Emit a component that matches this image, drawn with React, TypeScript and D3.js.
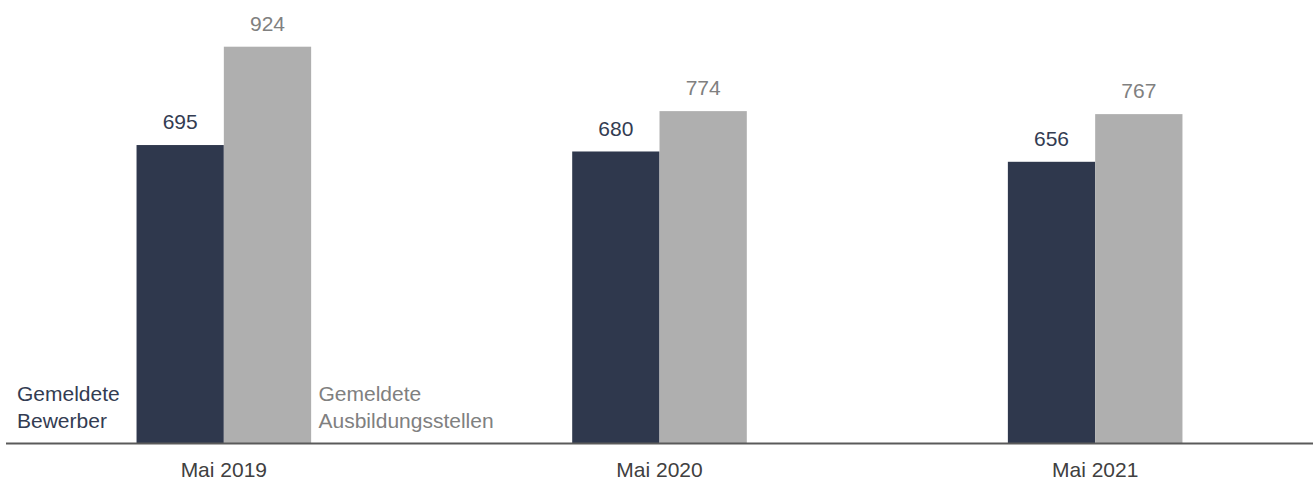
import React from "react";
import * as d3 from "d3";

const categories = ["Mai 2019", "Mai 2020", "Mai 2021"];
const bewerber = [695, 680, 656];
const stellen = [924, 774, 767];
const seriesNames = ["Gemeldete Bewerber", "Gemeldete Ausbildungsstellen"];

const W = 1314;
const H = 480;
const FONT = "'Liberation Sans', Arimo, Helvetica, sans-serif";
const DARK = "#2f384d";
const GRAY = "#afafaf";
const DARK_TXT = "#333c52";
const GRAY_TXT = "#808080";
const AXIS_TXT = "#404040";

export default function App() {
  const baseY = 443.5;
  const x = d3.scalePoint<string>().domain(categories).range([6, 1313]).padding(0.5);
  const inner = d3.scaleBand<string>().domain(seriesNames).range([-87.3, 87.3]);
  const y = d3.scaleLinear().domain([0, 924]).range([baseY, 46.7]);
  const series = [
    { name: seriesNames[0], values: bewerber, fill: DARK, txt: DARK_TXT },
    { name: seriesNames[1], values: stellen, fill: GRAY, txt: GRAY_TXT },
  ];
  const fs = 21;
  return (
    <svg
      width={W}
      height={H}
      style={{ position: "absolute", left: 0, top: 0, display: "block", background: "#fff" }}
      fontFamily={FONT}
    >
      {series.map((s) =>
        categories.map((c, i) => {
          const bx = (x(c) ?? 0) + (inner(s.name) ?? 0);
          const bw = inner.bandwidth();
          const v = s.values[i];
          return (
            <g key={s.name + c}>
              <rect x={bx} y={y(v)} width={bw} height={baseY - y(v)} fill={s.fill} />
              <text
                x={bx + bw / 2}
                y={y(v) - 15.7}
                textAnchor="middle"
                fontSize={fs}
                fill={s.txt}
              >
                {v}
              </text>
            </g>
          );
        })
      )}
      <line x1={6} x2={1313} y1={baseY} y2={baseY} stroke="#5a5a5a" strokeWidth={2} />
      {categories.map((c) => (
        <text key={c} x={x(c)} y={476.5} textAnchor="middle" fontSize={fs} fill={AXIS_TXT}>
          {c}
        </text>
      ))}
      <text x={17} y={401} fontSize={fs} fill={DARK_TXT}>
        <tspan x={17}>Gemeldete</tspan>
        <tspan x={17} dy={26.5}>Bewerber</tspan>
      </text>
      <text x={318.5} y={401} fontSize={fs} fill={GRAY_TXT}>
        <tspan x={318.5}>Gemeldete</tspan>
        <tspan x={318.5} dy={26.5}>Ausbildungsstellen</tspan>
      </text>
    </svg>
  );
}
